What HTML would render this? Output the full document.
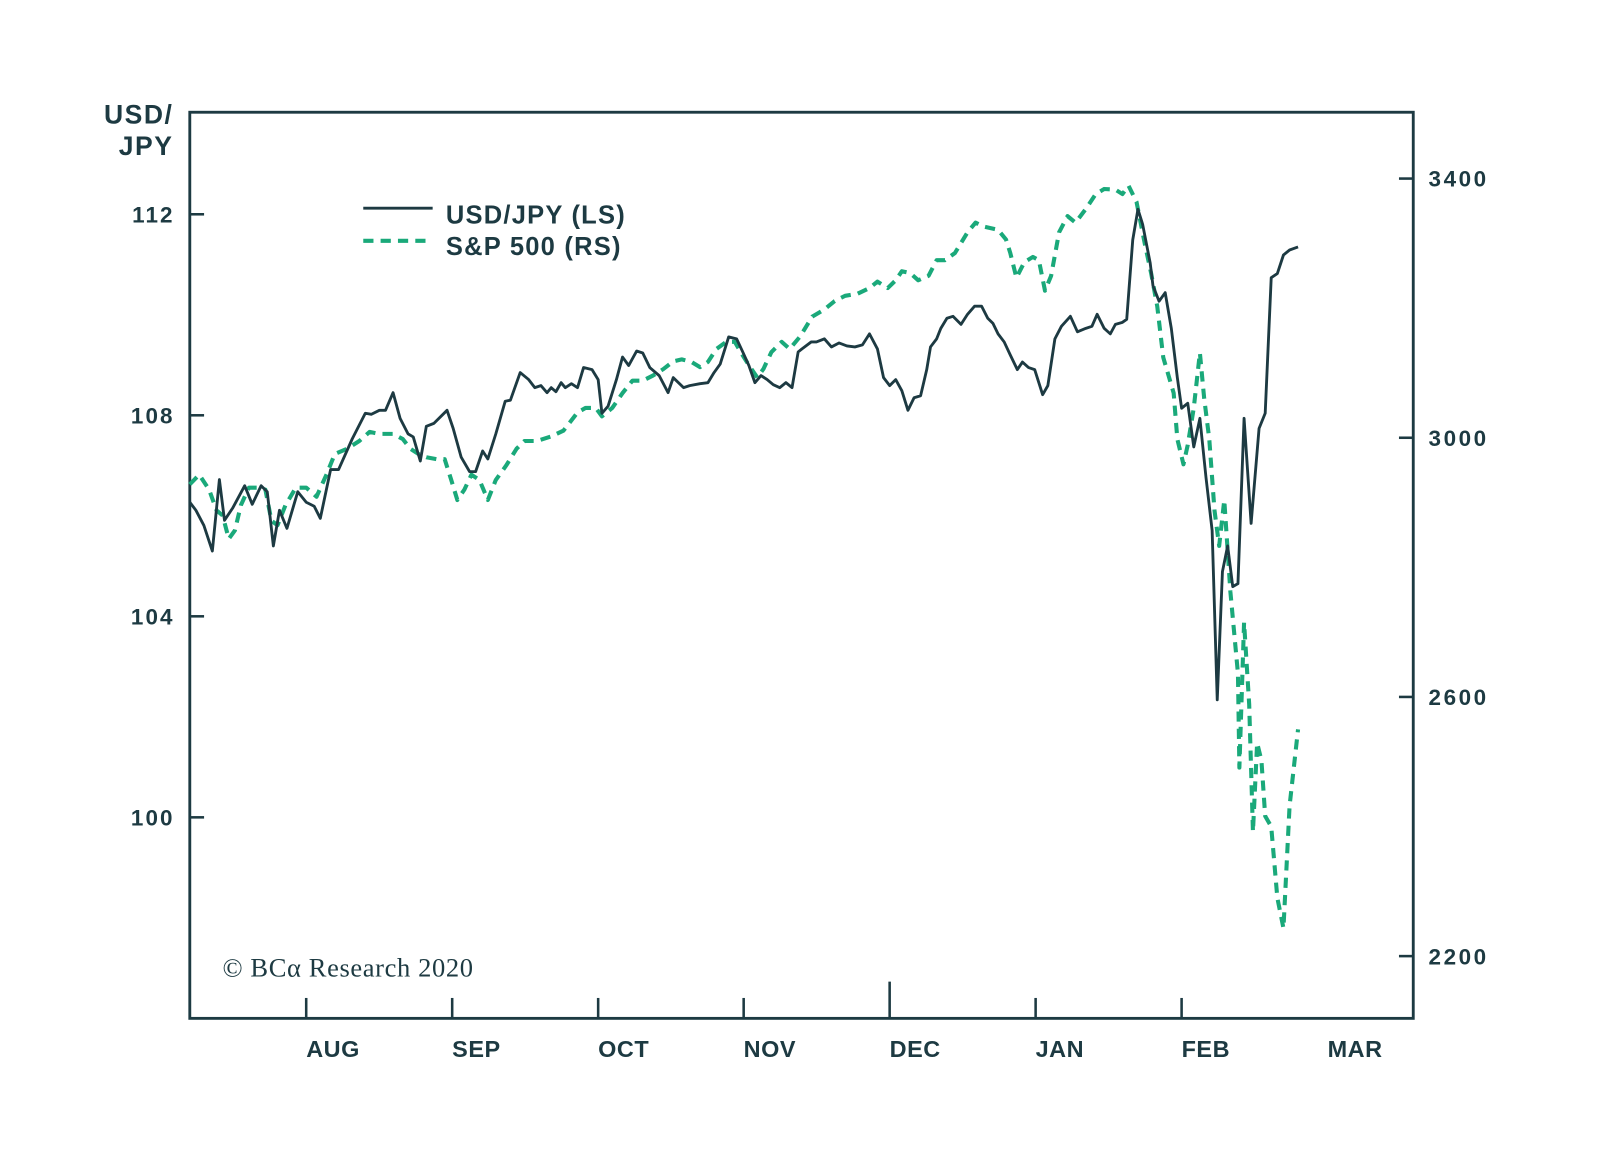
<!DOCTYPE html>
<html><head><meta charset="utf-8"><style>
html,body{margin:0;padding:0;background:#fff;}
svg{display:block;}
text{font-family:"Liberation Sans","DejaVu Sans",sans-serif;fill:#1d3a42;}
</style></head><body>
<svg id="chart" width="1600" height="1161" viewBox="0 0 1600 1161">
<g transform="scale(1.0204)">
<g id="axes"></g>
<g id="series"></g>
<g>
 <line x1="356" y1="204" x2="424" y2="204" stroke="#1d3a42" stroke-width="2.8"/>
 <text x="437" y="219" font-size="25" font-weight="bold" letter-spacing="1.2">USD/JPY (LS)</text>
 <line x1="356" y1="236" x2="424" y2="236" stroke="#1aa97a" stroke-width="4" stroke-dasharray="10 7"/>
 <text x="437" y="250" font-size="25" font-weight="bold" letter-spacing="1.2">S&amp;P 500 (RS)</text>
</g>
<text x="170" y="121" font-size="26" font-weight="bold" letter-spacing="1.5" text-anchor="end">USD/</text>
<text x="170" y="152" font-size="26" font-weight="bold" letter-spacing="1.5" text-anchor="end">JPY</text>
<text x="218" y="957" font-size="26" letter-spacing="0.6" style="font-family:'Liberation Serif',serif">© BCα Research 2020</text>
</g>
</svg>
<script>
const leftTicks=[100,104,108,112];
const rightTicks=[2200,2600,3000,3400];
const monthLabels=["AUG","SEP","OCT","NOV","DEC","JAN","FEB","MAR"];
const monthStartDays=[24.8,55.9,87.0,118.0,149.1,180.2,211.3,242.4];
const usdDays=[0,1.3,3.0,4.8,6.3,7.4,9.1,11.7,13.3,15.2,16.5,17.8,19.1,20.7,23.0,24.8,26.5,27.8,30.0,31.7,34.6,37.4,38.7,40.4,41.7,43.3,44.8,46.5,47.6,49.1,50.4,52.0,54.8,56.1,57.8,59.6,60.9,62.4,63.5,65.2,67.2,68.3,70.4,72.2,73.5,74.8,76.1,77.0,78.0,79.1,80.0,81.3,82.6,83.9,85.7,87.0,87.8,89.1,90.9,92.2,93.5,95.2,96.5,98.0,100.0,101.9,103.0,105.2,106.5,108.7,110.4,111.7,113.0,114.8,116.5,117.8,119.1,120.4,121.7,123.0,124.3,125.7,127.0,128.3,129.6,130.4,132.4,133.5,135.2,136.7,138.3,140.0,141.7,143.3,144.8,146.5,147.8,149.1,150.4,151.7,153.0,154.3,155.7,157.0,157.8,159.1,160.0,161.3,162.6,164.3,165.7,167.2,168.7,170.0,171.1,172.2,173.5,174.8,176.3,177.4,178.7,180.0,181.7,182.8,184.3,185.7,187.6,189.1,190.9,192.2,193.3,194.8,196.1,197.2,198.7,199.6,200.9,202.0,203.0,204.6,205.2,206.5,207.8,209.1,210.4,211.3,212.6,213.9,215.2,216.5,217.8,218.9,220.0,221.1,222.2,223.3,224.6,226.1,227.8,229.1,230.4,231.7,233.0,234.3,236.1];
const usdValues=[106.27,106.11,105.81,105.30,106.72,105.91,106.15,106.60,106.23,106.60,106.48,105.40,106.11,105.75,106.48,106.27,106.19,105.95,106.92,106.92,107.53,108.04,108.02,108.10,108.10,108.45,107.94,107.63,107.57,107.09,107.78,107.84,108.10,107.74,107.17,106.88,106.88,107.29,107.13,107.63,108.28,108.30,108.85,108.71,108.55,108.59,108.45,108.55,108.47,108.65,108.55,108.63,108.55,108.95,108.91,108.71,108.04,108.18,108.71,109.16,108.99,109.28,109.24,108.95,108.79,108.45,108.75,108.55,108.59,108.63,108.65,108.85,109.02,109.56,109.52,109.26,108.99,108.65,108.79,108.71,108.61,108.55,108.65,108.55,109.26,109.32,109.46,109.46,109.52,109.36,109.44,109.38,109.36,109.40,109.62,109.32,108.75,108.59,108.71,108.49,108.10,108.35,108.39,108.91,109.36,109.52,109.73,109.93,109.97,109.81,110.01,110.17,110.17,109.93,109.83,109.62,109.46,109.20,108.91,109.06,108.95,108.91,108.41,108.59,109.52,109.77,109.97,109.66,109.73,109.77,110.01,109.73,109.62,109.81,109.85,109.91,111.49,112.10,111.80,111.03,110.58,110.27,110.44,109.73,108.75,108.14,108.24,107.37,107.94,106.76,105.71,102.34,104.89,105.40,104.59,104.65,107.94,105.85,107.74,108.04,110.74,110.82,111.19,111.29,111.35];
const spxDays=[0,2.0,4.1,5.7,7.0,8.3,9.6,10.9,12.6,14.3,16.1,17.4,18.7,20.4,22.6,24.8,27.0,29.1,30.9,33.5,36.1,38.3,40.4,43.3,45.4,47.0,48.7,50.4,52.6,54.3,55.7,57.0,58.5,60.0,61.7,63.5,65.2,67.4,69.6,71.3,73.9,77.0,79.6,82.6,84.3,86.5,87.8,90.0,92.2,94.3,96.5,98.7,100.9,103.0,104.8,106.9,108.7,110.4,112.2,114.3,116.1,117.4,119.1,120.9,122.2,123.9,126.1,127.8,130.0,132.6,135.2,137.4,139.6,142.2,144.8,146.5,148.7,150.4,151.7,153.5,155.2,157.4,159.1,160.9,163.0,165.7,167.4,169.1,172.2,173.9,174.8,176.1,177.8,179.6,180.9,182.2,183.5,185.2,187.0,188.7,190.9,193.0,194.8,197.2,198.7,200.0,201.7,203.5,204.8,206.1,207.4,209.6,210.4,211.7,212.6,213.9,215.2,216.1,217.2,218.3,219.3,220.4,221.7,223.3,223.6,224.6,225.7,226.5,227.4,228.3,229.1,230.4,231.7,233.0,234.3,236.1];
const spxValues=[2928,2943,2920,2888,2880,2844,2857,2896,2923,2923,2920,2872,2865,2896,2923,2923,2909,2943,2975,2983,2995,3009,3006,3006,2998,2983,2975,2970,2967,2967,2935,2904,2920,2943,2935,2904,2935,2957,2983,2995,2995,3002,3011,3039,3046,3046,3033,3046,3069,3088,3088,3096,3106,3118,3121,3117,3109,3117,3137,3148,3148,3132,3112,3093,3106,3132,3148,3137,3156,3187,3198,3211,3219,3222,3231,3241,3231,3243,3257,3254,3243,3250,3274,3274,3285,3317,3332,3326,3321,3306,3285,3247,3271,3279,3274,3227,3250,3317,3342,3332,3353,3376,3384,3383,3376,3389,3364,3298,3254,3203,3124,3069,2998,2959,2989,3046,3131,3061,2998,2888,2833,2904,2762,2636,2491,2715,2589,2392,2529,2502,2416,2400,2290,2243,2432,2550];

const L=186,R=1385,T=110,B=998;
const xScale=d=>L+d*4.6;
const yLeft=v=>210+(112-v)*49.25;
const yRight=v=>175+(3400-v)*254/400;
const NS="http://www.w3.org/2000/svg";
const axes=document.getElementById('axes');
const series=document.getElementById('series');
function mk(tag,attrs,parent){const e=document.createElementNS(NS,tag);for(const k in attrs)e.setAttribute(k,attrs[k]);parent.appendChild(e);return e;}

const frame=mk('rect',{x:L,y:T,width:R-L,height:B-T,fill:'none',stroke:'#1d3a42','stroke-width':2.8},axes);



leftTicks.forEach(v=>{
 const y=yLeft(v);
 const t=mk('line',{x1:L,y1:y,x2:L+14,y2:y,stroke:'#1d3a42','stroke-width':2.5},axes);
 
 
 const tx=mk('text',{x:171,y:y+8,'font-size':22,'font-weight':'bold','letter-spacing':2,'text-anchor':'end'},axes);
 tx.textContent=v;
 
 
});
rightTicks.forEach(v=>{
 const y=yRight(v);
 const t=mk('line',{x1:R-14,y1:y,x2:R,y2:y,stroke:'#1d3a42','stroke-width':2.5},axes);
 
 
 const tx=mk('text',{x:1400,y:y+8,'font-size':22,'font-weight':'bold','letter-spacing':2.5},axes);
 tx.textContent=v;
 
 
});
monthLabels.forEach((m,i)=>{
 const x=xScale(monthStartDays[i]);
 if(m!=="MAR"){
  const t=mk('line',{x1:x,y1:B,x2:x,y2:m==="DEC"?962:978,stroke:'#1d3a42','stroke-width':2.5},axes);
  
  
 }
 const tx=mk('text',{x:x,y:1036,'font-size':23,'font-weight':'bold','letter-spacing':0.5},axes);
 tx.textContent=m;
 
 
});

const spxPts=spxDays.map((d,i)=>xScale(d).toFixed(1)+','+yRight(spxValues[i]).toFixed(1)).join(' ');
const sp=mk('polyline',{points:spxPts,fill:'none',stroke:'#1aa97a','stroke-width':4,'stroke-dasharray':'10 7','stroke-linejoin':'round'},series);


const usdPts=usdDays.map((d,i)=>xScale(d).toFixed(1)+','+yLeft(usdValues[i]).toFixed(1)).join(' ');
const us=mk('polyline',{points:usdPts,fill:'none',stroke:'#1d3a42','stroke-width':2.8,'stroke-linejoin':'round'},series);


</script>
</body></html>
